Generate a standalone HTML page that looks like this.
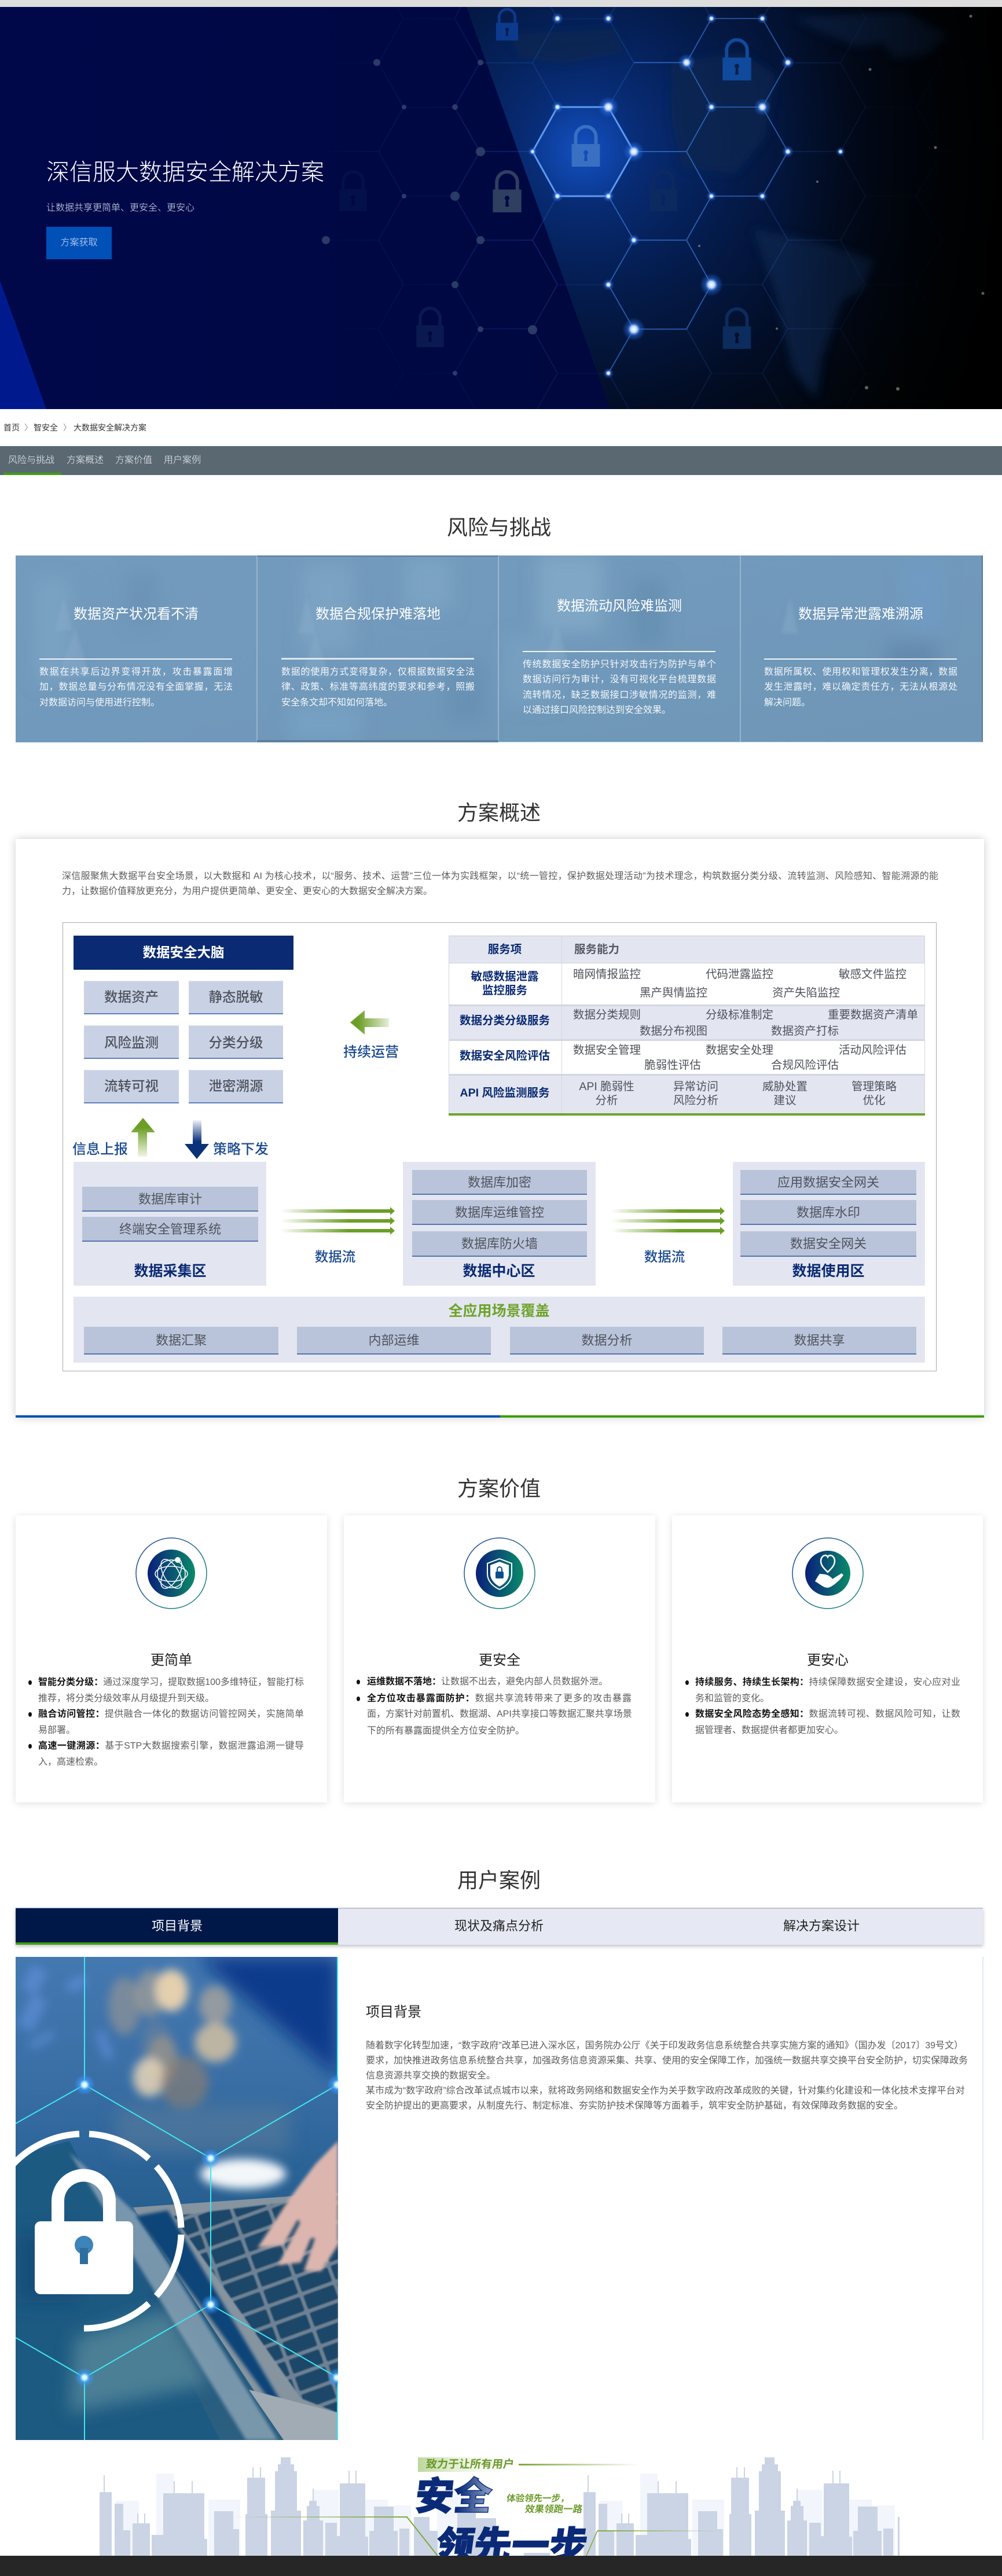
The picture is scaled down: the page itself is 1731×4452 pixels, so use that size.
<!DOCTYPE html>
<html lang="zh-CN"><head><meta charset="utf-8"><title>深信服大数据安全解决方案</title>
<style>
html,body{margin:0;padding:0;background:#fff}
#p{position:relative;width:1731px;height:4452px;overflow:hidden;background:#fff;font-family:"Liberation Sans","Noto Sans CJK SC",sans-serif;color:#333}
#p div,#p svg{position:absolute}
.t{white-space:nowrap;line-height:1}
.c{white-space:nowrap;line-height:1;transform:translateX(-50%)}
.j{white-space:nowrap;line-height:1;text-align:justify;text-align-last:justify}
.h{font-size:36px;font-weight:400;color:#333}
.card{background:#fff;box-shadow:0 2px 12px rgba(0,0,0,.12)}
.b1,.b2{text-align:center;white-space:nowrap;color:#4f535c;font-weight:500;font-size:23.5px}
.b1{background:#c9d2e5;border-bottom:2px solid #5f7fb8;box-sizing:border-box;box-shadow:inset 0 1px 0 #dde3ef}
.b2{background:#b9c4da;border-bottom:2px solid #5474ad;box-sizing:border-box;font-size:22px;font-weight:400}
.z{background:#e3e6f0}
.rt{font-size:24px;color:#fff;font-weight:400}
.rb{font-size:16px;color:#f4f8fc;width:334px;font-weight:400}
.navy{color:#0a2a73;font-weight:700}
.it{font-size:19.5px;color:#4f525a;font-weight:400}
.vl{font-size:16px;color:#5c5c5c;font-weight:400}
.vl b{color:#111;font-weight:700}
.dot{width:6px;height:8px;border-radius:50%;background:#111}
.p16{font-size:16px;color:#5c5c5c;font-weight:400}
</style></head><body><div id="p">

<svg width="1731" height="4452" viewBox="0 0 1731 4452" style="left:0;top:0">
<defs>
<linearGradient id="hl" x1="0" x2="1" y1="0" y2="0"><stop offset="0" stop-color="#00084a"/><stop offset=".5" stop-color="#000842"/><stop offset="1" stop-color="#000630"/></linearGradient>
<radialGradient id="hr" gradientUnits="userSpaceOnUse" cx="1010" cy="250" r="800"><stop offset="0" stop-color="#0c3a96"/><stop offset=".15" stop-color="#07296e"/><stop offset=".35" stop-color="#041a48"/><stop offset=".6" stop-color="#020c22"/><stop offset=".85" stop-color="#010509"/><stop offset="1" stop-color="#000"/></radialGradient>
<linearGradient id="hv" x1="0" x2="1" y1="0" y2="0"><stop offset="0" stop-color="#000" stop-opacity="0"/><stop offset="1" stop-color="#000" stop-opacity=".9"/></linearGradient>
<radialGradient id="hex1" gradientUnits="userSpaceOnUse" cx="1007" cy="262" r="110"><stop offset="0" stop-color="#1555c8" stop-opacity=".85"/><stop offset="1" stop-color="#0a3a96" stop-opacity=".55"/></radialGradient>
<radialGradient id="mk" gradientUnits="userSpaceOnUse" cx="1120" cy="300" r="700"><stop offset="0" stop-color="#fff"/><stop offset=".45" stop-color="#fff" stop-opacity=".5"/><stop offset=".8" stop-color="#fff" stop-opacity=".08"/><stop offset="1" stop-color="#fff" stop-opacity="0"/></radialGradient>
<mask id="hm"><rect x="400" y="12" width="1331" height="695" fill="url(#mk)"/></mask>
<pattern id="hp" patternUnits="userSpaceOnUse" width="266" height="153.2" x="165" y="32"><path d="M0 0H88L132 76.6H223L266 0M132 76.6L88 153.2M223 76.6L266 153.2" fill="none" stroke="#2f6fd6" stroke-width="1.600"/></pattern>
<filter id="b1" x="-50%" y="-50%" width="200%" height="200%"><feGaussianBlur stdDeviation="1"/></filter>
<filter id="b3" x="-50%" y="-50%" width="200%" height="200%"><feGaussianBlur stdDeviation="3"/></filter>
<filter id="b6" x="-50%" y="-50%" width="200%" height="200%"><feGaussianBlur stdDeviation="8"/></filter>
<filter id="b15" x="-50%" y="-50%" width="200%" height="200%"><feGaussianBlur stdDeviation="15"/></filter>
<symbol id="lk" viewBox="0 0 50 76"><path d="M7 36V23a18 18 0 0 1 36 0V36" fill="none" stroke="currentColor" stroke-width="6"/><path fill="currentColor" fill-rule="evenodd" d="M0 36h50v40H0zM25 47a4 4 0 0 0-2 7.5L22 66h6l-1-11.5A4 4 0 0 0 25 47z"/></symbol>
<radialGradient id="gl"><stop offset="0" stop-color="#fff"/><stop offset=".28" stop-color="#bcd6ff"/><stop offset=".55" stop-color="#2a72e8" stop-opacity=".5"/><stop offset="1" stop-color="#2a72e8" stop-opacity="0"/></radialGradient>
<linearGradient id="rk" x1="0" x2="1" y1="0" y2="1"><stop offset="0" stop-color="#739bbd"/><stop offset=".5" stop-color="#7199bb"/><stop offset="1" stop-color="#6f96b6"/></linearGradient>
<linearGradient id="im" x1="0" x2="0" y1="0" y2="1"><stop offset="0" stop-color="#4478b0"/><stop offset=".25" stop-color="#3a6fa6"/><stop offset=".42" stop-color="#2c6498"/><stop offset=".7" stop-color="#1e5780"/><stop offset="1" stop-color="#2c6080"/></linearGradient>
<pattern id="keys" patternUnits="userSpaceOnUse" width="62" height="32" patternTransform="rotate(-20)"><rect width="62" height="32" fill="#6d8294"/><rect x="3" y="3" width="56" height="26" rx="3" fill="#1d4668"/></pattern>
<radialGradient id="cg"><stop offset="0" stop-color="#fff"/><stop offset=".22" stop-color="#c8f6ff"/><stop offset=".5" stop-color="#3a9cff" stop-opacity=".7"/><stop offset="1" stop-color="#3a9cff" stop-opacity="0"/></radialGradient>
<clipPath id="ci"><rect x="27" y="3382" width="557" height="835"/></clipPath>
<clipPath id="cr"><rect x="27" y="960" width="1671" height="323"/></clipPath>
<clipPath id="cc"><rect x="170" y="4240" width="1384" height="178"/></clipPath>
<clipPath id="ch"><rect x="0" y="12" width="1731" height="695"/></clipPath>
<g id="city">
<g fill="#f2f5fb"><rect x="200" y="4322" width="40" height="96"/><rect x="270" y="4275" width="30" height="143"/><rect x="360" y="4320" width="55" height="98"/><rect x="540" y="4303" width="45" height="115"/><rect x="630" y="4320" width="40" height="98"/><rect x="680" y="4330" width="30" height="88"/><rect x="755" y="4300" width="40" height="118"/></g>
<g fill="#cbd4e4"><rect x="172" y="4307" width="21" height="111"/><rect x="179" y="4278" width="2" height="30"/><rect x="198" y="4327" width="15" height="91"/><rect x="213" y="4373" width="12" height="45"/><rect x="229" y="4361" width="30" height="57"/><rect x="237" y="4344" width="2" height="18"/><rect x="249" y="4344" width="2" height="18"/><rect x="262" y="4381" width="20" height="37"/><rect x="282" y="4309" width="71" height="109"/><rect x="300" y="4288" width="2" height="22"/><rect x="331" y="4288" width="2" height="22"/><rect x="353" y="4388" width="5" height="30"/><rect x="370" y="4340" width="33" height="78"/><rect x="403" y="4371" width="10" height="47"/><rect x="424" y="4345" width="38" height="73"/><rect x="427" y="4282" width="31" height="64"/><rect x="436" y="4264" width="2" height="20"/><rect x="449" y="4264" width="2" height="20"/><rect x="468" y="4339" width="52" height="79"/><rect x="475" y="4271" width="38" height="69"/><rect x="480" y="4259" width="28" height="13"/><rect x="485" y="4247" width="17" height="13"/><rect x="524" y="4356" width="34" height="62"/><rect x="530" y="4331" width="22" height="26"/><rect x="534" y="4322" width="13" height="10"/><rect x="540" y="4301" width="2" height="22"/><rect x="562" y="4360" width="20" height="58"/><rect x="582" y="4383" width="5" height="35"/><rect x="587" y="4292" width="44" height="126"/><rect x="602" y="4270" width="2" height="23"/><rect x="614" y="4270" width="2" height="23"/><rect x="631" y="4384" width="5" height="34"/><rect x="638" y="4374" width="8" height="44"/><rect x="646" y="4332" width="34" height="86"/><rect x="680" y="4374" width="7" height="44"/><rect x="690" y="4370" width="17" height="48"/><rect x="715" y="4350" width="27" height="68"/><rect x="742" y="4374" width="14" height="44"/><rect x="790" y="4343" width="32" height="75"/><rect x="822" y="4352" width="35" height="66"/><rect x="905" y="4412" width="45" height="6"/></g>
</g>
</defs>

<!-- hero -->
<rect x="0" y="0" width="1731" height="12" fill="#dddddd"/>
<g clip-path="url(#ch)">
<rect x="0" y="12" width="1731" height="695" fill="url(#hl)"/>
<polygon points="806,12 1054,707 1731,707 1731,12" fill="url(#hr)"/>
<polygon points="0,485 80,707 0,707" fill="#001a8e"/>
<g fill="#0a2850" opacity=".75" filter="url(#b6)">
<polygon points="1370,30 1560,20 1640,60 1600,95 1545,100 1525,75 1480,80 1430,60"/>
<polygon points="1160,110 1280,90 1340,130 1320,240 1270,300 1180,290 1160,210"/>
<polygon points="1300,395 1420,420 1510,450 1490,500 1455,520 1420,620 1410,690 1370,640 1340,510"/>
<polygon points="880,60 1060,50 1080,90 980,110 900,100"/>
</g>
<rect x="400" y="12" width="1331" height="695" fill="url(#hp)" mask="url(#hm)" opacity=".45"/>
<polygon points="963,185 1051,185 1095,262 1051,339 963,339 920,262" fill="url(#hex1)"/>
<path d="M963 185H1051L1095 262L1051 339H963L920 262Z" fill="none" stroke="#5a9bf2" stroke-width="3"/>
<path d="M1095 262H1186L1229 185H1317L1361 262L1317 339H1229L1186 262M1095 108H1186L1229 32H1317M1186 108L1229 185M1317 185L1361 108L1317 32M1051 339L1095 415H1186L1229 492L1186 569H1095L1051 492L1095 415M1229 339L1186 415M1095 569L1051 645" fill="none" stroke="#3a78d8" stroke-width="2" opacity=".55"/>
<use href="#lk" x="851" y="12" width="50" height="58" style="color:#0c3a8c"/>
<use href="#lk" x="1248" y="64" width="50" height="75" style="color:#0f4a9c"/>
<use href="#lk" x="987" y="214" width="50" height="74" style="color:#3a70c2"/>
<use href="#lk" x="851" y="292" width="50" height="75" style="color:#2e3f60"/>
<use href="#lk" x="1121" y="292" width="50" height="73" style="color:#0c2a60"/>
<use href="#lk" x="1248" y="529" width="50" height="74" style="color:#0b2c5c"/>
<use href="#lk" x="718" y="528" width="50" height="72" style="color:#0a1a50"/>
<use href="#lk" x="585" y="292" width="50" height="73" style="color:#04104a"/>
<rect x="1350" y="12" width="381" height="695" fill="url(#hv)"/>
<g fill="url(#gl)">
<circle cx="963" cy="32" r="10"/><circle cx="1051" cy="32" r="10"/><circle cx="1229" cy="32" r="9"/><circle cx="1317" cy="32" r="9"/>
<circle cx="1186" cy="108" r="15"/><circle cx="1361" cy="108" r="11"/>
<circle cx="963" cy="185" r="10"/><circle cx="1051" cy="185" r="18"/><circle cx="1229" cy="185" r="10"/><circle cx="1317" cy="185" r="15"/>
<circle cx="1095" cy="262" r="18"/><circle cx="920" cy="262" r="8"/><circle cx="1361" cy="262" r="10"/><circle cx="1452" cy="262" r="8"/>
<circle cx="963" cy="339" r="10"/><circle cx="1051" cy="339" r="10"/><circle cx="1229" cy="339" r="9"/><circle cx="1317" cy="339" r="9"/>
<circle cx="1095" cy="415" r="10"/><circle cx="1229" cy="492" r="20"/><circle cx="1051" cy="492" r="10"/>
<circle cx="1095" cy="569" r="20"/><circle cx="1051" cy="645" r="9"/>
</g>
<g fill="#33486e" opacity=".8">
<circle cx="830" cy="262" r="8"/><circle cx="786" cy="339" r="8"/><circle cx="698" cy="339" r="4"/><circle cx="563" cy="415" r="7"/><circle cx="830" cy="415" r="7"/><circle cx="920" cy="570" r="8"/><circle cx="786" cy="492" r="6"/><circle cx="830" cy="569" r="5"/><circle cx="786" cy="645" r="4"/><circle cx="651" cy="108" r="6"/><circle cx="830" cy="108" r="5"/><circle cx="698" cy="185" r="4"/><circle cx="786" cy="185" r="5"/>
</g>
<g fill="#8c9a78" opacity=".65"><circle cx="1677" cy="28" r="2.500"/><circle cx="1616" cy="255" r="2.500"/><circle cx="1698" cy="507" r="2.500"/><circle cx="1497" cy="670" r="3"/><circle cx="1551" cy="672" r="3"/><circle cx="1503" cy="120" r="2.500"/><circle cx="1412" cy="314" r="2"/><circle cx="1208" cy="425" r="2"/><circle cx="1342" cy="568" r="2"/></g>
</g>

<!-- risk backdrop -->
<g clip-path="url(#cr)">
<rect x="27" y="960" width="1671" height="323" fill="url(#rk)"/>
<g filter="url(#b15)">
<rect x="60" y="1000" width="60" height="180" fill="#82a9c9" opacity=".5"/><rect x="220" y="990" width="50" height="90" fill="#5f8aad" opacity=".4"/>
<rect x="520" y="975" width="90" height="150" fill="#85acca" opacity=".5"/><rect x="700" y="965" width="80" height="90" fill="#84abc9" opacity=".55"/><rect x="770" y="1140" width="70" height="110" fill="#5f8aad" opacity=".45"/><rect x="500" y="1220" width="120" height="60" fill="#7ca6c8" opacity=".6"/>
<rect x="930" y="960" width="110" height="130" fill="#8bb0cd" opacity=".6"/><rect x="1090" y="1000" width="60" height="120" fill="#5e89ac" opacity=".5"/><rect x="870" y="1100" width="90" height="120" fill="#80a7c7" opacity=".4"/>
<rect x="1560" y="970" width="70" height="120" fill="#6f9dcc" opacity=".5"/><rect x="1530" y="1110" width="90" height="60" fill="#577fa6" opacity=".5"/>
</g>
<g fill="#8eb0cc" opacity=".38" filter="url(#b3)"><polygon points="110,1030 125,1090 95,1090"/><polygon points="530,1030 545,1095 515,1095"/><polygon points="962,1075 985,1160 935,1160"/><polygon points="1365,1030 1378,1095 1350,1095"/><polygon points="130,1085 155,1170 100,1170"/><polygon points="545,1095 570,1170 520,1170"/></g>
<g stroke="#bcd2e3" stroke-width="1"><line x1="444" y1="960" x2="444" y2="1283"/><line x1="861" y1="960" x2="861" y2="1283"/><line x1="1279" y1="960" x2="1279" y2="1283"/></g>
<rect x="444" y="960" width="417" height="2" fill="#5a7e9e"/><rect x="444" y="1279" width="417" height="4" fill="#5e7f9d"/>
<rect x="1696" y="960" width="2" height="323" fill="#557a9b"/>
<rect x="861" y="1282" width="837" height="1" fill="#a9dcef"/>
</g>

<!-- case image -->
<g clip-path="url(#ci)">
<rect x="27" y="3382" width="557" height="835" fill="url(#im)"/>
<polygon points="340,3382 584,3382 584,3590" fill="#083a8c" filter="url(#b15)"/>
<g fill="#6f9bf2" opacity=".45" filter="url(#b6)"><rect x="45" y="3400" width="30" height="44" transform="rotate(25 60 3420)"/><rect x="45" y="3450" width="30" height="60" transform="rotate(25 60 3470)"/><rect x="115" y="3420" width="35" height="20" transform="rotate(-30 130 3430)"/><rect x="50" y="3520" width="45" height="14" transform="rotate(-28 70 3527)"/><rect x="170" y="3510" width="18" height="50" transform="rotate(-20 180 3530)"/></g>
<g filter="url(#b6)">
<ellipse cx="215" cy="3467" rx="28" ry="50" fill="#a89a8e" opacity=".55"/>
<ellipse cx="260" cy="3445" rx="26" ry="40" fill="#bfa98f" opacity=".55"/>
<ellipse cx="296" cy="3440" rx="29" ry="36" fill="#e4cfae"/>
<ellipse cx="372" cy="3465" rx="28" ry="34" fill="#b7a99b" opacity=".7"/>
<ellipse cx="372" cy="3530" rx="36" ry="34" fill="#cbbda2" opacity=".9"/>
<ellipse cx="270" cy="3530" rx="26" ry="40" fill="#7d8795" opacity=".4"/>
<ellipse cx="281" cy="3558" rx="26" ry="40" fill="#a89a85" opacity=".65"/>
<ellipse cx="258" cy="3590" rx="28" ry="34" fill="#e0cfb6" opacity=".9"/>
<ellipse cx="318" cy="3600" rx="42" ry="46" fill="#94806c" opacity=".6"/>
</g>
<polygon points="27,3725 120,3700 380,4217 27,4217" fill="#1d5a82"/>
<g filter="url(#b15)"><polygon points="130,4040 290,3990 360,4120 120,4170" fill="#6b97a2" opacity=".6"/><rect x="27" y="3860" width="110" height="120" fill="#154a76" opacity=".7"/><rect x="200" y="3640" width="300" height="80" fill="#5f7f99" opacity=".5"/></g>
<polygon points="120,3720 240,3830 480,4217 425,4217" fill="#8ea5b6" opacity=".8" filter="url(#b3)"/>
<polygon points="230,3815 584,3790 584,4217 495,4217" fill="#8694a0"/>
<polygon points="235,3830 290,3820 485,4150 460,4140" fill="#0f4478" filter="url(#b3)"/>
<polygon points="300,3830 584,3795 584,4170 520,4145" fill="url(#keys)" filter="url(#b1)"/>
<polygon points="430,4130 584,4170 584,4217 490,4217" fill="#a0abb4"/>
<ellipse cx="420" cy="3757" rx="74" ry="26" fill="#fff" opacity=".95" filter="url(#b6)"/>
<g filter="url(#b3)" fill="#dcb6ae">
<polygon points="584,3700 584,3860 530,3870 500,3800 545,3740"/>
<polygon points="500,3800 540,3790 490,3880 445,3885"/>
<polygon points="540,3800 565,3800 520,3910 480,3915"/>
<polygon points="570,3790 584,3790 584,3880 555,3925 525,3925"/>
</g>
<g fill="none" stroke="#fff" stroke-width="11">
<path d="M137 3688A168 168 0 0 0 22 3741"/><path d="M154 3688A168 168 0 0 1 257 3731"/><path d="M270 3744A168 168 0 0 1 313 3850"/><path d="M313 3862A168 168 0 0 1 270 3968"/><path d="M257 3981A168 168 0 0 1 145 4024"/>
</g>
<path d="M100 3845V3804a44.500 44.500 0 0 1 89 0V3845" fill="none" stroke="#fff" stroke-width="22"/>
<rect x="60" y="3839" width="170" height="126" rx="10" fill="#fff"/>
<circle cx="145" cy="3880" r="16" fill="#3d84b8"/><rect x="138" y="3885" width="14" height="28" fill="#2c6f9f"/>
<g stroke="#3fe6f2" stroke-width="2" fill="none">
<path d="M146 3382V3603M583 3382V3603M146 3603L27 3670M146 3603L364 3730M583 3603L364 3730M364 3730V3983M364 3983L146 4109M364 3983L583 4109M27 4040L146 4109M146 4109V4217M583 4109V4217"/>
</g>
<g fill="url(#cg)"><circle cx="146" cy="3603" r="18"/><circle cx="583" cy="3603" r="18"/><circle cx="364" cy="3730" r="17"/><circle cx="364" cy="3983" r="17"/><circle cx="146" cy="4109" r="17"/><circle cx="582" cy="4109" r="17"/></g>
</g>
<line x1="1698" y1="3382" x2="1698" y2="4217" stroke="#b9d8e6" stroke-width="1"/>

<!-- skyline -->
<g clip-path="url(#cc)"><use href="#city"/><use href="#city" x="836"/></g>
<linearGradient id="gLb" gradientUnits="userSpaceOnUse" x1="722" x2="900" y1="0" y2="0"><stop offset="0" stop-color="#bcd79a"/><stop offset="1" stop-color="#fff" stop-opacity="0"/></linearGradient>
<rect x="722" y="4247" width="178" height="25" fill="url(#gLb)"/>
<linearGradient id="gLn" gradientUnits="userSpaceOnUse" x1="896" x2="1104" y1="0" y2="0"><stop offset="0" stop-color="#7ea83a"/><stop offset="1" stop-color="#7ea83a" stop-opacity="0"/></linearGradient>
<rect x="896" y="4258" width="208" height="3" fill="url(#gLn)"/>
<linearGradient id="gL2" gradientUnits="userSpaceOnUse" x1="403" x2="703" y1="0" y2="0"><stop offset="0" stop-color="#7ea83a" stop-opacity="0"/><stop offset="1" stop-color="#7ea83a"/></linearGradient>
<path d="M403 4350H703L756 4417" fill="none" stroke="url(#gL2)" stroke-width="2"/>
<linearGradient id="gL3" gradientUnits="userSpaceOnUse" x1="1032" x2="1247" y1="0" y2="0"><stop offset="0" stop-color="#7ea83a"/><stop offset="1" stop-color="#7ea83a" stop-opacity="0"/></linearGradient>
<path d="M1032 4374H1247" fill="none" stroke="url(#gL3)" stroke-width="2"/>
<line x1="1013" y1="4417" x2="1032" y2="4374" stroke="#7ea83a" stroke-width="1.500"/>
</svg>

<!-- hero text -->
<div class="t" style="left:80px;top:278px;font-size:40px;color:#fff;font-weight:300">深信服大数据安全解决方案</div>
<div class="t" style="left:80px;top:352px;font-size:16px;color:#dfe6f2;font-weight:300">让数据共享更简单、更安全、更安心</div>
<div style="left:80px;top:392px;width:113px;height:56px;background:#0050b8;color:#dce9f8;font-size:16px;line-height:56px;text-align:center;font-weight:300">方案获取</div>

<!-- breadcrumb / nav -->
<div class="t" style="left:6px;top:732px;font-size:14px;color:#333">首页</div>
<div class="t" style="left:42px;top:732px;font-size:14px;color:#888">〉</div>
<div class="t" style="left:58px;top:732px;font-size:14px;color:#333">智安全</div>
<div class="t" style="left:109px;top:732px;font-size:14px;color:#888">〉</div>
<div class="t" style="left:127px;top:732px;font-size:14px;color:#333">大数据安全解决方案</div>
<div style="left:0;top:771px;width:1731px;height:50px;background:#5a6872"></div>
<div style="left:6px;top:817px;width:100px;height:4px;background:#3f9f10"></div>
<div class="t" style="left:14px;top:788px;font-size:16px;color:#eef2f5;font-weight:300">风险与挑战</div>
<div class="t" style="left:115px;top:788px;font-size:16px;color:#eef2f5;font-weight:300">方案概述</div>
<div class="t" style="left:199px;top:788px;font-size:16px;color:#eef2f5;font-weight:300">方案价值</div>
<div class="t" style="left:283px;top:788px;font-size:16px;color:#eef2f5;font-weight:300">用户案例</div>

<!-- risk -->
<div class="c h" style="left:862px;top:894px">风险与挑战</div>
<div class="c rt" style="left:235px;top:1050px">数据资产状况看不清</div>
<div class="c rt" style="left:653px;top:1050px">数据合规保护难落地</div>
<div class="c rt" style="left:1070px;top:1036px">数据流动风险难监测</div>
<div class="c rt" style="left:1487px;top:1050px">数据异常泄露难溯源</div>
<div style="left:68px;top:1138px;width:333px;height:2px;background:#f2f6fa"></div>
<div style="left:486px;top:1137px;width:333px;height:3px;background:#dde6ef"></div>
<div style="left:903px;top:1125px;width:333px;height:2px;background:#f2f6fa"></div>
<div style="left:1320px;top:1138px;width:333px;height:2px;background:#f2f6fa"></div>
<div class="j rb" style="left:68px;top:1154px">数据在共享后边界变得开放，攻击暴露面增</div>
<div class="j rb" style="left:68px;top:1180px">加，数据总量与分布情况没有全面掌握，无法</div>
<div class="t rb" style="left:68px;top:1207px">对数据访问与使用进行控制。</div>
<div class="j rb" style="left:486px;top:1154px">数据的使用方式变得复杂，仅根据数据安全法</div>
<div class="j rb" style="left:486px;top:1180px">律、政策、标准等高纬度的要求和参考，照搬</div>
<div class="t rb" style="left:486px;top:1207px">安全条文却不知如何落地。</div>
<div class="j rb" style="left:903px;top:1141px">传统数据安全防护只针对攻击行为防护与单个</div>
<div class="j rb" style="left:903px;top:1167px">数据访问行为审计，没有可视化平台梳理数据</div>
<div class="j rb" style="left:903px;top:1194px">流转情况，缺乏数据接口涉敏情况的监测，难</div>
<div class="t rb" style="left:903px;top:1220px">以通过接口风险控制达到安全效果。</div>
<div class="j rb" style="left:1320px;top:1154px">数据所属权、使用权和管理权发生分离，数据</div>
<div class="j rb" style="left:1320px;top:1180px">发生泄露时，难以确定责任方，无法从根源处</div>
<div class="t rb" style="left:1320px;top:1207px">解决问题。</div>

<!-- overview -->
<div class="c h" style="left:862px;top:1387px">方案概述</div>
<div style="left:27px;top:1450px;width:1673px;height:1000px;background:#fff;box-shadow:0 0 14px rgba(0,0,0,.2)"></div>
<div style="left:27px;top:2446px;width:837px;height:4px;background:#0050b8"></div>
<div style="left:864px;top:2446px;width:836px;height:4px;background:#3a9e08"></div>
<div class="j p16" style="left:107px;top:1507px;width:1514px">深信服聚焦大数据平台安全场景，以大数据和 AI 为核心技术，以“服务、技术、运营”三位一体为实践框架，以“统一管控，保护数据处理活动”为技术理念，构筑数据分类分级、流转监测、风险感知、智能溯源的能</div>
<div class="t p16" style="left:107px;top:1533px">力，让数据价值释放更充分，为用户提供更简单、更安全、更安心的大数据安全解决方案。</div>
<div style="left:108px;top:1594px;width:1508px;height:774px;border:1px solid #aaa;box-sizing:content-box"></div>

<div style="left:127px;top:1617px;width:380px;height:59px;background:#0a2a73;color:#fff;font-size:23.5px;font-weight:700;line-height:59px;text-align:center">数据安全大脑</div>
<div class="b1" style="left:145px;top:1695px;width:164px;height:58px;line-height:56px">数据资产</div>
<div class="b1" style="left:326px;top:1695px;width:163px;height:58px;line-height:56px">静态脱敏</div>
<div class="b1" style="left:145px;top:1772px;width:164px;height:58px;line-height:60px">风险监测</div>
<div class="b1" style="left:326px;top:1772px;width:163px;height:58px;line-height:60px">分类分级</div>
<div class="b1" style="left:145px;top:1849px;width:164px;height:58px;line-height:56px">流转可视</div>
<div class="b1" style="left:326px;top:1849px;width:163px;height:58px;line-height:56px">泄密溯源</div>

<div class="t" style="left:593px;top:1807px;font-size:24px;color:#1b4a8f;font-weight:500">持续运营</div>
<div class="t" style="left:125px;top:1975px;font-size:24px;color:#1b4a8f;font-weight:500">信息上报</div>
<div class="t" style="left:368px;top:1975px;font-size:24px;color:#1b4a8f;font-weight:500">策略下发</div>

<!-- table -->
<div class="z" style="left:775px;top:1617px;width:823px;height:47px"></div>
<div class="z" style="left:775px;top:1737px;width:823px;height:60px"></div>
<div class="z" style="left:775px;top:1857px;width:823px;height:67px"></div>
<div style="left:775px;top:1617px;width:823px;height:1px;background:#c6c9d4"></div>
<div style="left:775px;top:1664px;width:823px;height:1px;background:#cfd2dc"></div>
<div style="left:775px;top:1736px;width:823px;height:3px;background:#d3d6e0"></div>
<div style="left:775px;top:1796px;width:823px;height:3px;background:#d3d6e0"></div>
<div style="left:775px;top:1856px;width:823px;height:3px;background:#d3d6e0"></div>
<div style="left:775px;top:1617px;width:1px;height:307px;background:#d3d6e0"></div>
<div style="left:1597px;top:1617px;width:1px;height:307px;background:#d3d6e0"></div>
<div style="left:970px;top:1617px;width:1px;height:307px;background:#d3d6e0"></div>
<div style="left:775px;top:1924px;width:823px;height:4px;background:#6ea32b"></div>
<div class="c navy" style="left:872px;top:1632px;font-size:19.5px">服务项</div>
<div class="t" style="left:992px;top:1632px;font-size:19.5px;font-weight:700;color:#565a63">服务能力</div>
<div class="c navy" style="left:872px;top:1679px;font-size:19.5px">敏感数据泄露</div>
<div class="c navy" style="left:872px;top:1703px;font-size:19.5px">监控服务</div>
<div class="c navy" style="left:872px;top:1755px;font-size:19.5px">数据分类分级服务</div>
<div class="c navy" style="left:872px;top:1816px;font-size:19.5px">数据安全风险评估</div>
<div class="c navy" style="left:872px;top:1880px;font-size:19.5px">API 风险监测服务</div>
<div class="t it" style="left:990px;top:1675px">暗网情报监控</div><div class="t it" style="left:1219px;top:1675px">代码泄露监控</div><div class="t it" style="left:1449px;top:1675px">敏感文件监控</div>
<div class="t it" style="left:1105px;top:1707px">黑产舆情监控</div><div class="t it" style="left:1334px;top:1707px">资产失陷监控</div>
<div class="t it" style="left:990px;top:1745px">数据分类规则</div><div class="t it" style="left:1219px;top:1745px">分级标准制定</div><div class="t it" style="left:1430px;top:1745px">重要数据资产清单</div>
<div class="t it" style="left:1105px;top:1773px">数据分布视图</div><div class="t it" style="left:1332px;top:1773px">数据资产打标</div>
<div class="t it" style="left:990px;top:1806px">数据安全管理</div><div class="t it" style="left:1219px;top:1806px">数据安全处理</div><div class="t it" style="left:1449px;top:1806px">活动风险评估</div>
<div class="c it" style="left:1162px;top:1832px">脆弱性评估</div><div class="t it" style="left:1332px;top:1832px">合规风险评估</div>
<div class="c it" style="left:1048px;top:1869px">API 脆弱性</div><div class="c it" style="left:1048px;top:1893px">分析</div>
<div class="c it" style="left:1202px;top:1869px">异常访问</div><div class="c it" style="left:1202px;top:1893px">风险分析</div>
<div class="c it" style="left:1356px;top:1869px">威胁处置</div><div class="c it" style="left:1356px;top:1893px">建议</div>
<div class="c it" style="left:1510px;top:1869px">管理策略</div><div class="c it" style="left:1510px;top:1893px">优化</div>

<!-- zones -->
<div class="z" style="left:127px;top:2008px;width:333px;height:214px"></div>
<div class="z" style="left:696px;top:2008px;width:333px;height:214px"></div>
<div class="z" style="left:1266px;top:2008px;width:332px;height:214px"></div>
<div class="z" style="left:127px;top:2241px;width:1471px;height:114px"></div>
<div class="b2" style="left:142px;top:2051px;width:304px;height:43px;line-height:43px">数据库审计</div>
<div class="b2" style="left:142px;top:2103px;width:304px;height:43px;line-height:43px">终端安全管理系统</div>
<div class="b2" style="left:712px;top:2022px;width:302px;height:43px;line-height:43px">数据库加密</div>
<div class="b2" style="left:712px;top:2074px;width:302px;height:43px;line-height:43px">数据库运维管控</div>
<div class="b2" style="left:712px;top:2128px;width:302px;height:44px;line-height:44px">数据库防火墙</div>
<div class="b2" style="left:1279px;top:2022px;width:304px;height:43px;line-height:43px">应用数据安全网关</div>
<div class="b2" style="left:1279px;top:2074px;width:304px;height:43px;line-height:43px">数据库水印</div>
<div class="b2" style="left:1279px;top:2128px;width:304px;height:44px;line-height:44px">数据安全网关</div>
<div class="b2" style="left:145px;top:2293px;width:336px;height:48px;line-height:48px">数据汇聚</div>
<div class="b2" style="left:513px;top:2293px;width:335px;height:48px;line-height:48px">内部运维</div>
<div class="b2" style="left:881px;top:2293px;width:335px;height:48px;line-height:48px">数据分析</div>
<div class="b2" style="left:1248px;top:2293px;width:335px;height:48px;line-height:48px">数据共享</div>
<div class="c navy" style="left:294px;top:2185px;font-size:25px">数据采集区</div>
<div class="c navy" style="left:862px;top:2185px;font-size:25px">数据中心区</div>
<div class="c navy" style="left:1431px;top:2185px;font-size:25px">数据使用区</div>
<div class="c" style="left:862px;top:2254px;font-size:25px;color:#6ea32b;font-weight:700">全应用场景覆盖</div>
<div class="c" style="left:579px;top:2161px;font-size:23.5px;color:#1b4a8f;font-weight:500">数据流</div>
<div class="c" style="left:1148px;top:2161px;font-size:23.5px;color:#1b4a8f;font-weight:500">数据流</div>

<svg width="1731" height="4452" viewBox="0 0 1731 4452" style="left:0;top:0">
<defs>
<linearGradient id="aL" x1="0" x2="1" y1="0" y2="0"><stop offset=".2" stop-color="#6c9e25"/><stop offset="1" stop-color="#e6efd8"/></linearGradient>
<linearGradient id="aU" x1="0" x2="0" y1="0" y2="1"><stop offset=".25" stop-color="#6c9e25"/><stop offset="1" stop-color="#f0f5e6"/></linearGradient>
<linearGradient id="aD" x1="0" x2="0" y1="0" y2="1"><stop offset="0" stop-color="#eef1f7"/><stop offset=".55" stop-color="#0a3278"/></linearGradient>
<linearGradient id="aF" x1="0" x2="1" y1="0" y2="0"><stop offset="0" stop-color="#fff"/><stop offset=".6" stop-color="#6c9e25"/></linearGradient>
</defs>
<polygon points="605,1767 630,1746 630,1760 672,1760 672,1775 630,1775 630,1788" fill="url(#aL)"/>
<polygon points="247,1932 268,1957 254,1957 254,1999 238.500,1999 238.500,1957 226,1957" fill="url(#aU)"/>
<polygon points="333,1936 348,1936 348,1977 361,1977 340,2003 319,1977 333,1977" fill="url(#aD)"/>
<g fill="url(#aF)">
<polygon points="485,2090 674,2090 674,2086 682,2093 674,2100 674,2096 485,2096"/>
<polygon points="485,2107 674,2107 674,2103 682,2110 674,2117 674,2113 485,2113"/>
<polygon points="485,2124 674,2124 674,2120 682,2127 674,2134 674,2130 485,2130"/>
<polygon points="1056,2090 1244,2090 1244,2086 1252,2093 1244,2100 1244,2096 1056,2096"/>
<polygon points="1056,2107 1244,2107 1244,2103 1252,2110 1244,2117 1244,2113 1056,2113"/>
<polygon points="1056,2124 1244,2124 1244,2120 1252,2127 1244,2134 1244,2130 1056,2130"/>
</g>
</svg>

<!-- value -->
<div class="c h" style="left:862px;top:2555px">方案价值</div>
<div class="card" style="left:27px;top:2619px;width:538px;height:496px"></div>
<div class="card" style="left:594px;top:2619px;width:538px;height:496px"></div>
<div class="card" style="left:1161px;top:2619px;width:537px;height:496px"></div>

<svg width="1731" height="600" viewBox="0 2500 1731 600" style="left:0;top:2500px">
<defs><linearGradient id="ic2" x1="0" x2="1" y1="0" y2="0"><stop offset="0" stop-color="#0a1f7a"/><stop offset="1" stop-color="#0a8a6a"/></linearGradient>
<linearGradient id="is2" x1="0" x2="1" y1="0" y2="1"><stop offset="0" stop-color="#1f3c96"/><stop offset="1" stop-color="#1a9080"/></linearGradient></defs>
<g fill="none" stroke="url(#is2)" stroke-width="1.500"><circle cx="296" cy="2719" r="61"/><circle cx="863" cy="2719" r="61"/><circle cx="1430" cy="2719" r="61"/></g>
<g fill="url(#ic2)"><circle cx="296" cy="2719" r="41"/><circle cx="863" cy="2719" r="41"/><circle cx="1430" cy="2719" r="39"/></g>
<g fill="none" stroke="#fff" stroke-width="1.500">
<ellipse cx="296" cy="2720" rx="28" ry="13"/><ellipse cx="296" cy="2720" rx="28" ry="13" transform="rotate(60 296 2720)"/><ellipse cx="296" cy="2720" rx="28" ry="13" transform="rotate(-60 296 2720)"/><circle cx="296" cy="2720" r="24"/>
</g>
<circle cx="307" cy="2696" r="5" fill="#fff"/>
<path d="M863 2694l21 8v18c0 13-10 22-21 27-11-5-21-14-21-27v-18z" fill="none" stroke="#fff" stroke-width="2"/>
<path d="M863 2699l16 6v15c0 10-8 18-16 22z" fill="#fff"/><path d="M863 2699l-16 6v15c0 10 8 18 16 22z" fill="#fff"/>
<rect x="856" y="2716" width="14" height="12" rx="2" fill="#0a4f8a"/><path d="M859 2716v-4a4 4 0 0 1 8 0v4" fill="none" stroke="#0a4f8a" stroke-width="2"/>
<path d="M1430 2717c-5-5-12-11-12-19 0-6 4-10 8-10 2 0 3 1 4 3 1-2 2-3 4-3 4 0 8 4 8 10 0 8-7 14-12 19z" fill="none" stroke="#fff" stroke-width="2.500"/>
<path d="M1408 2733c8 4 14 11 22 11 6 0 22-13 27-22l-3-3-16 10c-2-4-8-7-12-8l-10-1c-3 4-6 9-8 13z" fill="#fff"/>
</svg>

<div class="c" style="left:296px;top:2858px;font-size:24px;color:#222;font-weight:400">更简单</div>
<div class="c" style="left:863px;top:2858px;font-size:24px;color:#222;font-weight:400">更安全</div>
<div class="c" style="left:1430px;top:2858px;font-size:24px;color:#222;font-weight:400">更安心</div>

<div class="dot" style="left:49px;top:2904px"></div><div class="dot" style="left:49px;top:2959px"></div><div class="dot" style="left:49px;top:3014px"></div>
<div class="j vl" style="left:66px;top:2900px;width:459px"><b>智能分类分级：</b>通过深度学习，提取数据100多维特征，智能打标</div>
<div class="t vl" style="left:66px;top:2928px">推荐，将分类分级效率从月级提升到天级。</div>
<div class="j vl" style="left:66px;top:2955px;width:459px"><b>融合访问管控：</b>提供融合一体化的数据访问管控网关，实施简单</div>
<div class="t vl" style="left:66px;top:2983px">易部署。</div>
<div class="j vl" style="left:66px;top:3010px;width:459px"><b>高速一键溯源：</b>基于STP大数据搜索引擎，数据泄露追溯一键导</div>
<div class="t vl" style="left:66px;top:3038px">入，高速检索。</div>

<div class="dot" style="left:616px;top:2903px"></div><div class="dot" style="left:616px;top:2932px"></div>
<div class="t vl" style="left:634px;top:2899px"><b>运维数据不落地：</b>让数据不出去，避免内部人员数据外泄。</div>
<div class="j vl" style="left:634px;top:2928px;width:457px"><b>全方位攻击暴露面防护：</b>数据共享流转带来了更多的攻击暴露</div>
<div class="j vl" style="left:634px;top:2955px;width:457px">面，方案针对前置机、数据湖、API共享接口等数据汇聚共享场景</div>
<div class="t vl" style="left:634px;top:2984px">下的所有暴露面提供全方位安全防护。</div>

<div class="dot" style="left:1184px;top:2904px"></div><div class="dot" style="left:1184px;top:2959px"></div>
<div class="j vl" style="left:1201px;top:2900px;width:458px"><b>持续服务、持续生长架构：</b>持续保障数据安全建设，安心应对业</div>
<div class="t vl" style="left:1201px;top:2928px">务和监管的变化。</div>
<div class="j vl" style="left:1201px;top:2955px;width:458px"><b>数据安全风险态势全感知：</b>数据流转可视、数据风险可知，让数</div>
<div class="t vl" style="left:1201px;top:2983px">据管理者、数据提供者都更加安心。</div>

<!-- case -->
<div class="c h" style="left:862px;top:3232px">用户案例</div>
<div style="left:27px;top:3297px;width:1671px;height:64px;background:#e6e9f3;box-shadow:0 3px 6px rgba(80,80,110,.35);border-top:2px solid #c4c7d0;box-sizing:border-box"></div>
<div style="left:27px;top:3297px;width:557px;height:64px;background:#001848;border-top:1px solid #8ab8e8;box-sizing:border-box"></div>
<div style="left:27px;top:3357px;width:557px;height:4px;background:#3f9f10"></div>
<div class="c" style="left:306px;top:3318px;font-size:22px;color:#fff;font-weight:400">项目背景</div>
<div class="c" style="left:862px;top:3318px;font-size:22px;color:#222;font-weight:400">现状及痛点分析</div>
<div class="c" style="left:1419px;top:3318px;font-size:22px;color:#222;font-weight:400">解决方案设计</div>
<div class="t" style="left:632px;top:3466px;font-size:24px;color:#222;font-weight:400">项目背景</div>
<div class="t p16" style="left:632px;top:3528px">随着数字化转型加速，“数字政府”改革已进入深水区，国务院办公厅《关于印发政务信息系统整合共享实施方案的通知》（国办发〔2017〕39号文）</div>
<div class="j p16" style="left:632px;top:3554px;width:1040px">要求，加快推进政务信息系统整合共享，加强政务信息资源采集、共享、使用的安全保障工作，加强统一数据共享交换平台安全防护，切实保障政务</div>
<div class="t p16" style="left:632px;top:3580px">信息资源共享交换的数据安全。</div>
<div class="j p16" style="left:632px;top:3606px;width:1034px">某市成为“数字政府”综合改革试点城市以来，就将政务网络和数据安全作为关乎数字政府改革成败的关键，针对集约化建设和一体化技术支撑平台对</div>
<div class="t p16" style="left:632px;top:3632px">安全防护提出的更高要求，从制度先行、制定标准、夯实防护技术保障等方面着手，筑牢安全防护基础，有效保障政务数据的安全。</div>

<!-- banner text -->
<div class="t" style="left:736px;top:4250px;font-size:19px;font-weight:700;color:#6b9a2a;transform:skewX(-6deg)">致力于让所有用户</div>
<div class="t" style="left:718px;top:4281px;font-size:66px;font-weight:900;background:linear-gradient(90deg,#0a2a78 55%,#92a6c9);-webkit-background-clip:text;background-clip:text;color:transparent;-webkit-text-stroke:1.5px #0f2f7c;transform:skewX(-6deg)">安全</div>
<div class="t" style="left:875px;top:4311px;font-size:15.500px;font-weight:700;color:#6b9a2a;transform:skewX(-8deg)">体验领先一步，</div>
<div class="t" style="left:907px;top:4329px;font-size:16.500px;font-weight:700;color:#6b9a2a;transform:skewX(-8deg)">效果领跑一路</div>
<div class="t" style="left:754px;top:4367px;font-size:65px;font-weight:900;color:#0a2a78;-webkit-text-stroke:1.5px #0a2a78;transform:skewX(-8deg)">领先一步</div>

<div style="left:0;top:4417px;width:1731px;height:35px;background:#262626"></div>
</div></body></html>
